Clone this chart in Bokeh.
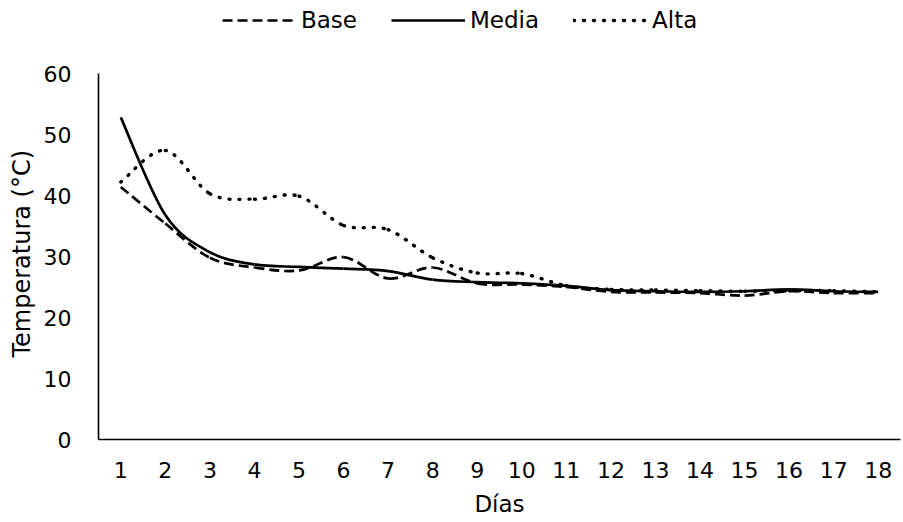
from bokeh.plotting import figure
from bokeh.models import Range1d, FixedTicker, Legend, LegendItem, Title
from bokeh.embed import file_html
from bokeh.resources import INLINE

days = list(range(1, 19))
base = [41.4, 35.4, 29.8, 28.2, 27.7, 29.9, 26.4, 28.2, 25.6, 25.4, 25.0, 24.2, 24.1, 24.0, 23.6, 24.3, 24.0, 24.0]
media = [52.8, 36.8, 30.7, 28.7, 28.3, 28.0, 27.6, 26.2, 25.8, 25.6, 25.2, 24.5, 24.3, 24.2, 24.3, 24.6, 24.3, 24.2]
alta = [42.2, 47.4, 40.3, 39.4, 39.9, 35.1, 34.4, 29.8, 27.3, 27.2, 25.2, 24.6, 24.5, 24.4, 24.3, 24.4, 24.4, 24.2]
y_ticks = [0, 10, 20, 30, 40, 50, 60]

FONT = "DejaVu Sans"


def smooth_segments(xs, ys):
    """Catmull-Rom style (Excel smoothed line) bezier control points."""
    n = len(xs)
    x0, y0, x1, y1, cx0, cy0, cx1, cy1 = ([] for _ in range(8))
    for i in range(n - 1):
        pm = i - 1 if i > 0 else i
        pp = i + 2 if i + 2 < n else i + 1
        x0.append(xs[i]); y0.append(ys[i])
        x1.append(xs[i + 1]); y1.append(ys[i + 1])
        cx0.append(xs[i] + (xs[i + 1] - xs[pm]) / 6.0)
        cy0.append(ys[i] + (ys[i + 1] - ys[pm]) / 6.0)
        cx1.append(xs[i + 1] - (xs[pp] - xs[i]) / 6.0)
        cy1.append(ys[i + 1] - (ys[pp] - ys[i]) / 6.0)
    return dict(x0=x0, y0=y0, x1=x1, y1=y1, cx0=cx0, cy0=cy0, cx1=cx1, cy1=cy1)


# frame spans from 5px below the top edge; the value axis itself is bounded to 0..60
p = figure(width=903, height=522, output_backend="svg", toolbar_location=None,
           x_range=Range1d(0.5, 18.5), y_range=Range1d(0, 60 + 68 / 6.1),
           min_border_left=98, min_border_right=3, min_border_top=5, min_border_bottom=83)
p.outline_line_color = None
p.xgrid.visible = False
p.ygrid.visible = False
p.background_fill_color = "white"
p.border_fill_color = "white"

r_base = p.bezier(source=smooth_segments(days, base), x0="x0", y0="y0", x1="x1", y1="y1",
                  cx0="cx0", cy0="cy0", cx1="cx1", cy1="cy1",
                  line_color="black", line_width=2.7, line_dash="10 5")
r_media = p.bezier(source=smooth_segments(days, media), x0="x0", y0="y0", x1="x1", y1="y1",
                   cx0="cx0", cy0="cy0", cx1="cx1", cy1="cy1",
                   line_color="black", line_width=2.7)
r_alta = p.bezier(source=smooth_segments(days, alta), x0="x0", y0="y0", x1="x1", y1="y1",
                  cx0="cx0", cy0="cy0", cx1="cx1", cy1="cy1",
                  line_color="black", line_width=3.4, line_dash="1 9", line_cap="round")

for ax in (p.xaxis[0], p.yaxis[0]):
    ax.axis_line_color = "black"
    ax.axis_line_width = 1.6
    ax.major_tick_line_color = None
    ax.minor_tick_line_color = None
    ax.major_label_text_font = FONT
    ax.major_label_text_font_size = "22px"
    ax.major_label_text_color = "black"
    ax.axis_label_text_font = FONT
    ax.axis_label_text_font_size = "23px"
    ax.axis_label_text_font_style = "normal"
    ax.axis_label_text_color = "black"

p.xaxis.ticker = FixedTicker(ticks=days)
p.yaxis.ticker = FixedTicker(ticks=y_ticks)
p.yaxis.bounds = (0, 60)
p.xaxis.axis_label = "Días"
p.xaxis.major_label_standoff = 16
p.xaxis.axis_label_standoff = 10
p.yaxis.major_label_standoff = 21

# y-axis title, centred on the 0..60 axis span rather than on the taller frame
ytitle = Title(text="Temperatura (°C)", align="left", offset=82, standoff=10,
               text_font=FONT, text_font_size="24px", text_font_style="normal",
               text_color="black")
p.add_layout(ytitle, "left")

legend = Legend(items=[LegendItem(label="Base", renderers=[r_base]),
                       LegendItem(label="Media", renderers=[r_media]),
                       LegendItem(label="Alta", renderers=[r_alta])],
                orientation="horizontal", location=(124, 406),
                glyph_width=74, glyph_height=24, label_height=24,
                label_standoff=5, spacing=34, padding=0, margin=0,
                border_line_color=None, background_fill_alpha=0,
                label_text_font=FONT, label_text_font_size="23px", label_text_color="black")
p.add_layout(legend, "center")

open("out.html", "w").write(file_html(p, INLINE))
